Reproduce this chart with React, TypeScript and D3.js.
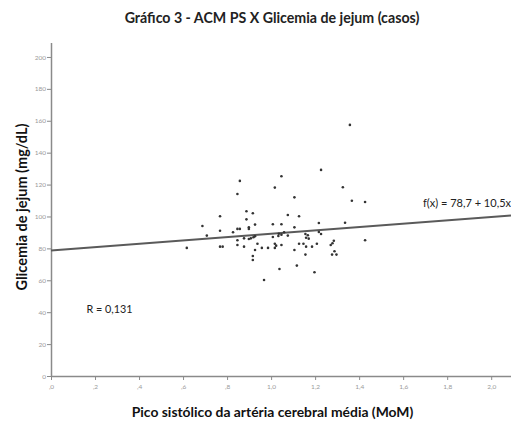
import React, { useEffect, useRef } from "react";
import * as d3 from "d3";

// pico sistólico ACM (MoM) x glicemia de jejum (mg/dL)
const pico = [
  1.227, 1.047, 0.858, 1.017, 0.847, 1.106, 0.888, 0.917, 1.076, 0.768,
  1.127, 0.888, 0.927, 1.008, 1.047, 1.217, 0.688, 0.847, 0.858, 0.899,
  0.899, 1.106, 0.768, 0.827, 1.035, 1.047, 1.059, 1.217, 1.227, 0.708,
  0.927, 0.92, 1.008, 1.033, 1.076, 1.156, 1.167, 1.159, 1.171, 0.847,
  0.877, 0.899, 0.908, 1.285, 0.617, 0.768, 0.78, 0.847, 0.877, 0.938,
  0.958, 0.986, 1.017, 1.023, 1.017, 1.047, 1.127, 1.147, 1.159, 1.186,
  1.208, 1.271, 1.279, 0.927, 1.106, 1.288, 0.917, 0.917, 1.156, 1.277,
  1.297, 1.117, 1.038, 1.197, 0.968, 1.358, 1.326, 1.367, 1.427, 1.336,
  1.427,
];
const glicemia = [
  129.2, 125.2, 122.3, 118.1, 114.1, 112.0, 103.3, 102.0, 100.9, 100.1,
  100.1, 98.2, 94.9, 95.1, 95.1, 95.9, 94.0, 92.2, 92.2, 93.2,
  92.2, 93.2, 91.1, 90.1, 89.2, 88.6, 90.1, 90.3, 89.0, 88.0,
  87.6, 87.0, 87.1, 87.8, 88.0, 89.0, 88.2, 86.7, 86.1, 85.1,
  86.3, 85.9, 86.3, 84.8, 80.3, 81.1, 81.1, 82.1, 81.1, 82.9,
  80.3, 80.3, 82.9, 81.7, 80.3, 82.1, 82.9, 82.9, 81.1, 81.1,
  82.9, 82.1, 83.2, 79.0, 79.0, 78.2, 75.2, 72.7, 76.1, 76.1,
  76.1, 69.2, 67.1, 65.0, 60.2, 157.4, 118.3, 109.9, 109.1, 96.1,
  85.1,
];
const xTicks = [0, 0.2, 0.4, 0.6, 0.8, 1.0, 1.2, 1.4, 1.6, 1.8, 2.0];
const yTicks = [0, 20, 40, 60, 80, 100, 120, 140, 160, 180, 200];
const intercept = 78.7;
const slope = 10.5;
const rValue = "0,131";

const App = () => {
  const ref = useRef<SVGSVGElement>(null);

  useEffect(() => {
    const width = 511;
    const height = 425;
    const svg = d3.select(ref.current);
    svg.selectAll("*").remove();
    svg.attr("width", width).attr("height", height);

    const font = "Lato, 'Open Sans', sans-serif";
    const x = d3.scaleLinear().domain([0, 2.09]).range([51, 511]);
    const y = d3.scaleLinear().domain([0, 209]).range([376, 42.6]);
    const fmt = (d: number) => d3.format(".1f")(d).replace("0.", ".").replace(".", ",");

    // eixo x
    const gx = svg.append("g").attr("transform", `translate(0,${y(0)})`);
    gx.call(d3.axisBottom(x).tickValues(xTicks).tickSize(4).tickSizeOuter(0).tickFormat((d) => fmt(d as number)));
    gx.select(".domain").attr("stroke", "#8a8a8a").attr("stroke-width", 1.5);
    gx.selectAll(".tick line").attr("stroke", "#8a8a8a");
    gx.selectAll(".tick text")
      .attr("fill", "#9a9a9a")
      .attr("font-size", 6.5)
      .attr("font-family", font)
      .attr("dy", "0.9em");

    // eixo y
    const gy = svg.append("g").attr("transform", `translate(${x(0)},0)`);
    gy.call(d3.axisLeft(y).tickValues(yTicks).tickSize(4).tickSizeOuter(0).tickFormat(d3.format("d")));
    gy.select(".domain").attr("stroke", "#8a8a8a").attr("stroke-width", 1.5);
    gy.selectAll(".tick line").attr("stroke", "#8a8a8a");
    gy.selectAll(".tick text")
      .attr("fill", "#9a9a9a")
      .attr("font-size", 6.5)
      .attr("font-family", font)
      .attr("x", -5);

    // reta de regressão
    const line = d3
      .line<number>()
      .x((d) => x(d))
      .y((d) => y(intercept + slope * d));
    svg
      .append("path")
      .datum([0, 2.09])
      .attr("d", line)
      .attr("fill", "none")
      .attr("stroke", "#5a5a5a")
      .attr("stroke-width", 2);

    // pontos
    svg
      .append("g")
      .selectAll("circle")
      .data(pico.map((p, i) => [p, glicemia[i]]))
      .enter()
      .append("circle")
      .attr("cx", (d) => x(d[0]))
      .attr("cy", (d) => y(d[1]))
      .attr("r", 1.3)
      .attr("fill", "#333");

    svg
      .append("text")
      .attr("x", 423)
      .attr("y", 207)
      .attr("font-size", 11)
      .attr("font-family", font)
      .attr("fill", "#222")
      .text(`f(x) = ${String(intercept).replace(".", ",")} + ${String(slope).replace(".", ",")}x`);

    svg
      .append("text")
      .attr("x", 86.5)
      .attr("y", 313)
      .attr("font-size", 10.8)
      .attr("font-family", font)
      .attr("fill", "#222")
      .text(`R = ${rValue}`);

    // títulos
    svg
      .append("text")
      .attr("x", 272)
      .attr("y", 23)
      .attr("text-anchor", "middle")
      .attr("font-size", 14.2)
      .attr("font-weight", "bold")
      .attr("font-family", font)
      .attr("fill", "#222")
      .text("Gráfico 3 - ACM PS X Glicemia de jejum (casos)");

    svg
      .append("text")
      .attr("x", 272.5)
      .attr("y", 417)
      .attr("text-anchor", "middle")
      .attr("font-size", 13.9)
      .attr("font-weight", "bold")
      .attr("font-family", font)
      .attr("fill", "#111")
      .text("Pico sistólico da artéria cerebral média (MoM)");

    svg
      .append("text")
      .attr("transform", `translate(27,207) rotate(-90)`)
      .attr("text-anchor", "middle")
      .attr("font-size", 14.5)
      .attr("font-weight", "bold")
      .attr("font-family", font)
      .attr("fill", "#111")
      .text("Glicemia de jejum (mg/dL)");
  }, []);

  return (
    <svg
      ref={ref}
      style={{ position: "absolute", left: 0, top: 0, background: "#fff", overflow: "hidden" }}
    ></svg>
  );
};

export default App;
